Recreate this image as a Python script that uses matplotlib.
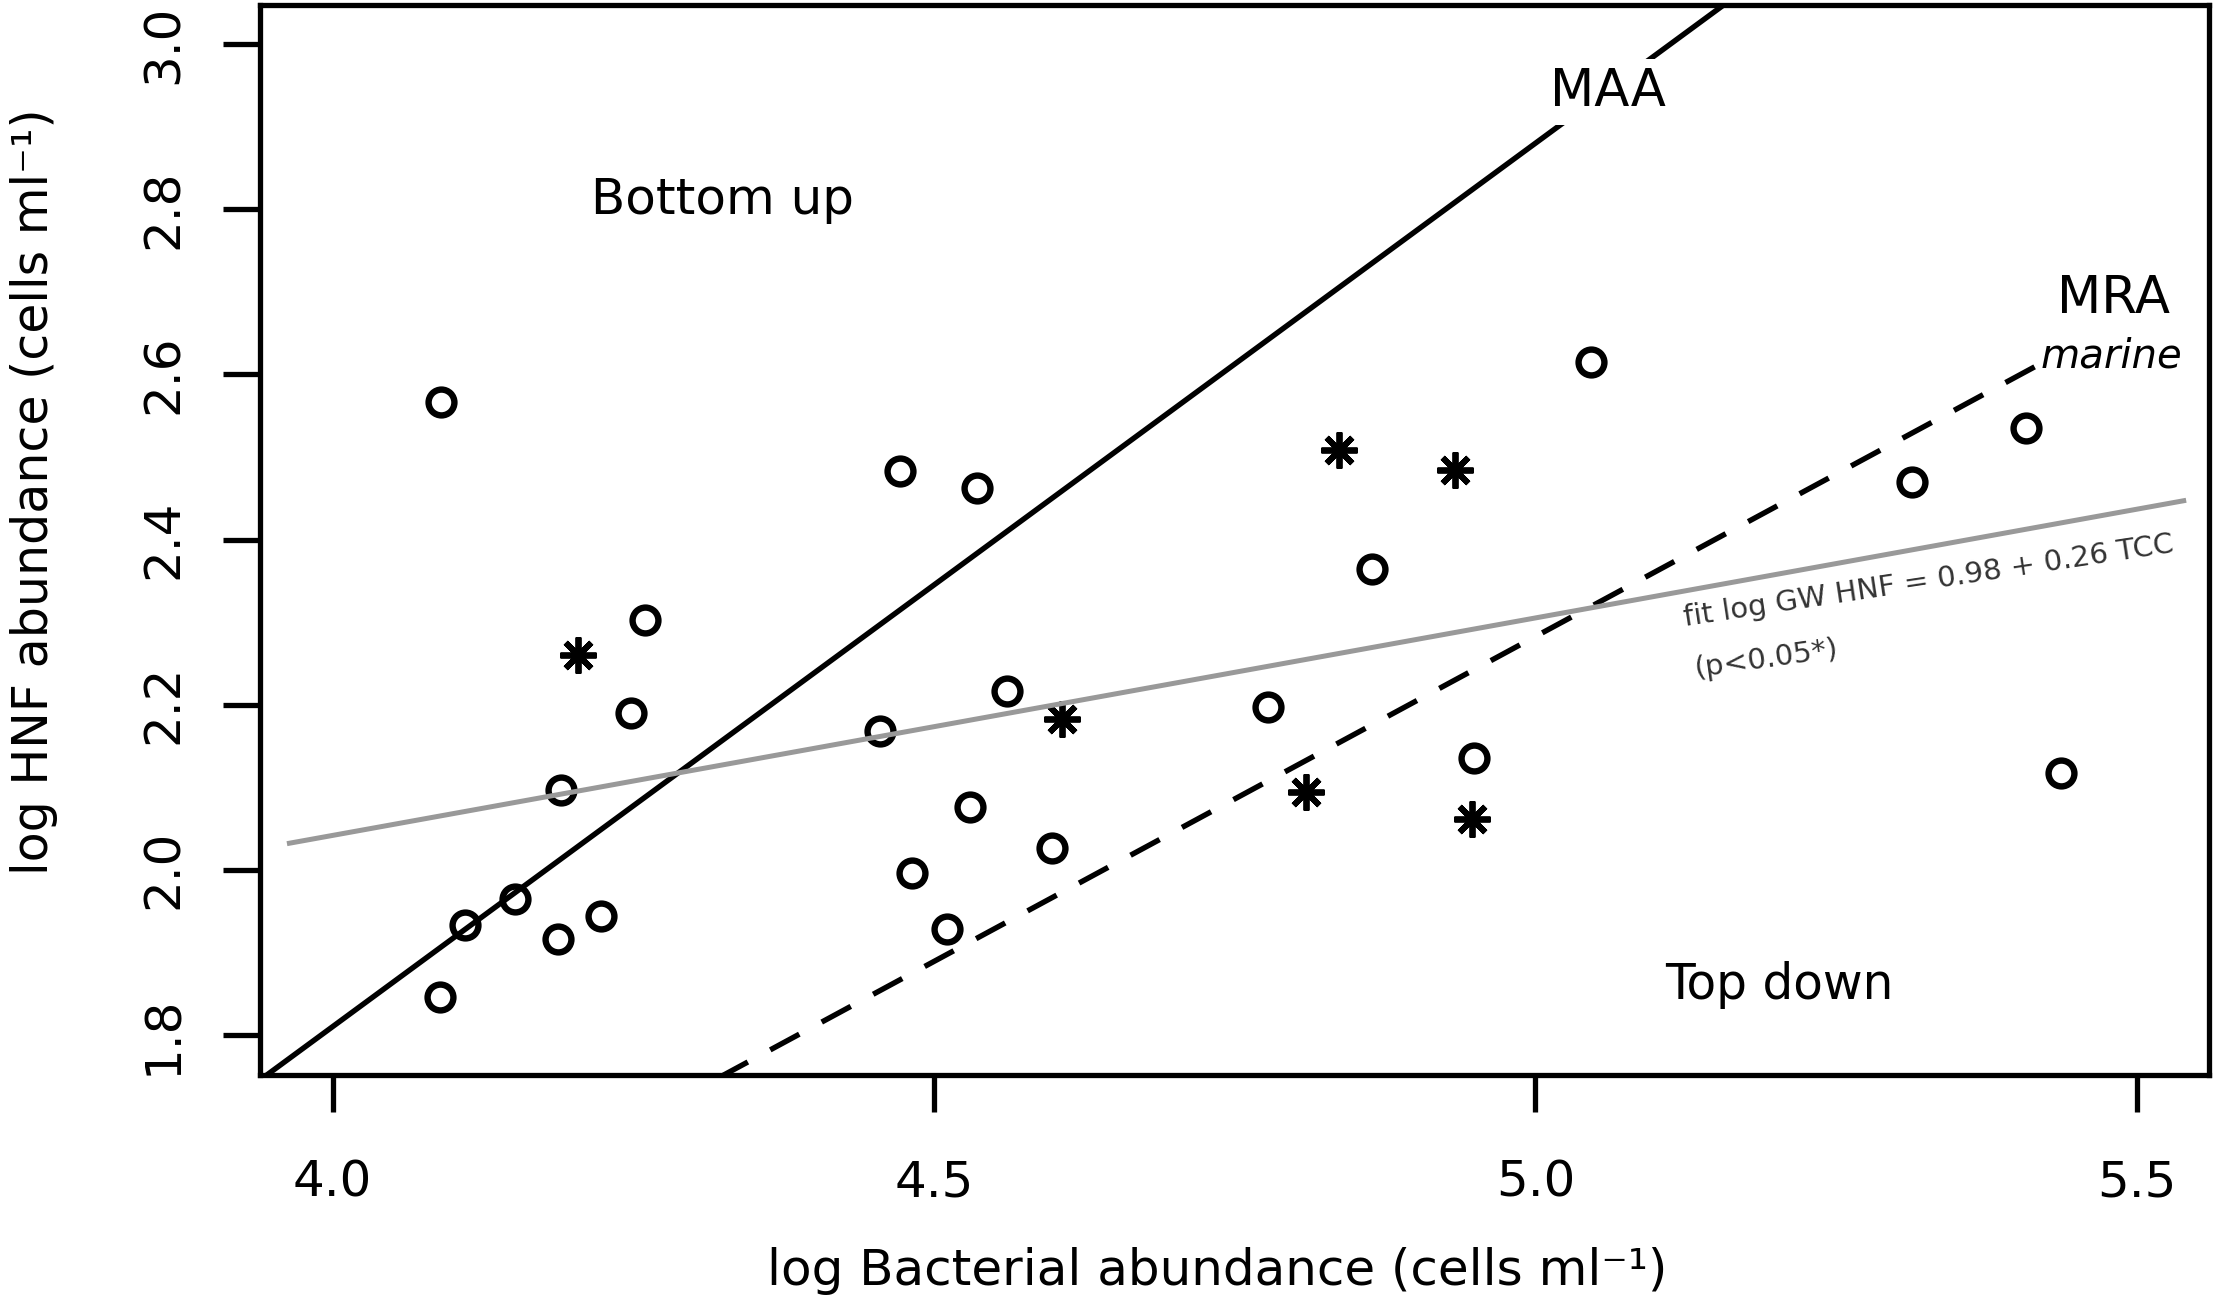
import matplotlib
matplotlib.use("Agg")
import matplotlib.pyplot as plt
from matplotlib.markers import MarkerStyle
import numpy as np

# ---------------- data ----------------
circle_x = [4.090, 4.472, 4.536, 5.046, 4.864, 5.313, 5.408, 5.437,
            4.260, 4.248, 4.190, 4.455, 4.561, 4.778, 4.530, 4.482,
            4.598, 4.511, 4.949, 4.152, 4.110, 4.187, 4.223, 4.089]
circle_y = [2.567, 2.483, 2.462, 2.615, 2.364, 2.470, 2.535, 2.117,
            2.303, 2.190, 2.097, 2.168, 2.216, 2.197, 2.076, 1.996,
            2.026, 1.928, 2.135, 1.965, 1.933, 1.916, 1.944, 1.846]

star_x = [4.204, 4.606, 4.837, 4.933, 4.809, 4.947]
star_y = [2.260, 2.182, 2.508, 2.484, 2.094, 2.061]

x_ticks = [4.0, 4.5, 5.0, 5.5]
x_tick_labels = ["4.0", "4.5", "5.0", "5.5"]
y_ticks = [1.8, 2.0, 2.2, 2.4, 2.6, 2.8, 3.0]
y_tick_labels = ["1.8", "2.0", "2.2", "2.4", "2.6", "2.8", "3.0"]

# MAA (maximum attainable abundance): solid line
maa_slope, maa_intercept = 1.07, -2.47
# MRA marine (mean realized abundance): dashed line
mra_slope, mra_intercept = 0.787, -1.6525
mra_x_range = [5.415, 4.30]
# fitted groundwater line (grey)
fit_slope, fit_intercept = 0.2634, 0.988
fit_x_range = [3.962, 5.541]

x_limits = (3.94, 5.56)
y_limits = (1.752, 3.048)

x_label = "log Bacterial abundance (cells ml\u207b\u00b9)"
y_label = "log HNF abundance (cells ml\u207b\u00b9)"

# ---------------- figure ----------------
plt.rcParams["font.family"] = ["DejaVu Sans"]
fig = plt.figure(figsize=(22.17, 13.02), dpi=100)
ax = fig.add_axes([0.1175, 0.17473, 0.99639 - 0.1175, 0.99654 - 0.17473])

ax.set_xlim(*x_limits)
ax.set_ylim(*y_limits)

# points
ax.plot(circle_x, circle_y, linestyle="none", marker="o", markersize=18.6,
        markerfacecolor="none", markeredgecolor="black", markeredgewidth=4.6,
        zorder=2)
star_marker = MarkerStyle((8, 2, 0), capstyle="round")
ax.plot(star_x, star_y, linestyle="none", marker=star_marker, markersize=26,
        markeredgecolor="black", markeredgewidth=4.2, zorder=2)

# MAA line (clipped to axes)
xx = np.array(x_limits)
ax.plot(xx, maa_slope * xx + maa_intercept, color="black", lw=3.9,
        solid_capstyle="butt", zorder=2.5)

# MRA marine dashed line
xm = np.array(mra_x_range)
ax.plot(xm, mra_slope * xm + mra_intercept, color="black", lw=3.9,
        linestyle=(0, (6.1, 4.7)), dash_capstyle="butt", zorder=2.5)

# fitted grey line
xf = np.array(fit_x_range)
ax.plot(xf, fit_slope * xf + fit_intercept, color="#999999", lw=3.6,
        solid_capstyle="butt", zorder=3)

# annotations
ax.text(4.324, 2.794, "Bottom up", ha="center", va="baseline", fontsize=36)
ax.text(5.203, 1.843, "Top down", ha="center", va="baseline", fontsize=35)
ax.text(5.060, 2.925, "MAA", ha="center", va="baseline", fontsize=37,
        bbox=dict(boxstyle="square,pad=0.15", facecolor="white",
                  edgecolor="none"), zorder=4)
ax.text(5.4806, 2.674, "MRA", ha="center", va="baseline", fontsize=37)
ax.text(5.4785, 2.608, "marine", ha="center", va="baseline", fontsize=29,
        style="italic")
ax.text(5.1243, 2.2956, "fit log GW HNF = 0.98 + 0.26 TCC", ha="left",
        va="baseline", fontsize=21, color="#333333", rotation=8.6,
        rotation_mode="anchor")
ax.text(5.1335, 2.2335, "(p<0.05*)", ha="left", va="baseline", fontsize=21,
        color="#333333", rotation=8.0, rotation_mode="anchor")

# axes styling
for s in ax.spines.values():
    s.set_linewidth(3.8)
ax.set_xticks(x_ticks)
ax.set_xticklabels(x_tick_labels)
ax.set_yticks(y_ticks)
ax.set_yticklabels(y_tick_labels)
ax.tick_params(axis="both", direction="out", length=26.6, width=3.8,
               labelsize=36)
ax.tick_params(axis="x", pad=34)
ax.tick_params(axis="y", pad=26, labelrotation=90)
for lab in ax.get_yticklabels():
    lab.set_verticalalignment("center")

ax.set_xlabel(x_label, fontsize=36)
ax.xaxis.set_label_coords(0.4909, -0.1964)
ax.xaxis.label.set_verticalalignment("baseline")
ax.set_ylabel(y_label, fontsize=35.3)
ax.yaxis.set_label_coords(-0.1091, 0.5450)
ax.yaxis.label.set_verticalalignment("baseline")

fig.savefig("out.png", dpi=100)
